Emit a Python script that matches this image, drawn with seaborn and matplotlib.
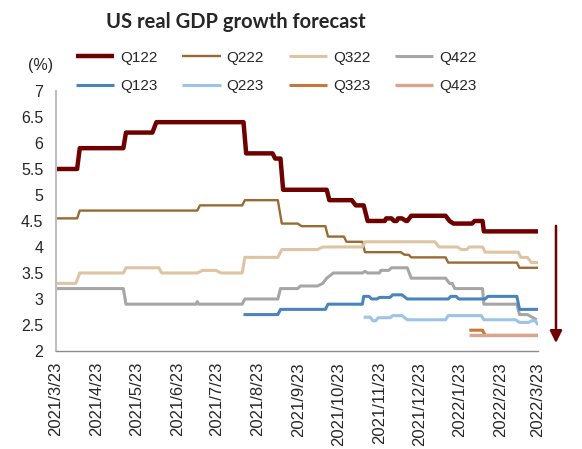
import matplotlib
matplotlib.use('Agg')
import matplotlib.pyplot as plt
import pandas as pd
import seaborn as sns

# series (date, forecast value in %)
series_names = ['Q122', 'Q222', 'Q322', 'Q422', 'Q123', 'Q223', 'Q323', 'Q423']
series_colors = ['#6E0000', '#9A6A33', '#DDC4A2', '#A6A6A6',
                 '#4A84BC', '#9DC3E6', '#C8763A', '#D8A58E']
series_widths = [3.2, 1.7, 2.2, 2.2, 2.2, 2.2, 2.2, 2.4]

q122_dates = ['2021-03-23', '2021-04-08', '2021-04-10', '2021-05-13', '2021-05-15',
              '2021-06-04', '2021-06-07', '2021-08-12', '2021-08-14', '2021-09-03',
              '2021-09-05', '2021-09-09', '2021-09-11', '2021-10-14', '2021-10-16',
              '2021-11-02', '2021-11-05', '2021-11-11', '2021-11-14', '2021-11-27',
              '2021-11-28', '2021-12-02', '2021-12-04', '2021-12-06', '2021-12-07',
              '2021-12-10', '2021-12-13', '2021-12-14', '2021-12-17', '2022-01-12',
              '2022-01-15', '2022-01-18', '2022-02-01', '2022-02-03', '2022-02-09',
              '2022-02-10', '2022-03-23']
q122_values = [5.5, 5.5, 5.9, 5.9, 6.2,
               6.2, 6.4, 6.4, 5.8, 5.8,
               5.7, 5.7, 5.1, 5.1, 4.9,
               4.9, 4.8, 4.8, 4.5, 4.5,
               4.55, 4.55, 4.5, 4.5, 4.55,
               4.55, 4.5, 4.5, 4.6, 4.6,
               4.5, 4.45, 4.45, 4.5, 4.5,
               4.3, 4.3]

q222_dates = ['2021-03-23', '2021-04-08', '2021-04-10', '2021-07-08', '2021-07-10',
              '2021-08-11', '2021-08-13', '2021-09-07', '2021-09-10', '2021-09-22',
              '2021-09-25', '2021-10-13', '2021-10-15', '2021-10-27', '2021-10-29',
              '2021-11-10', '2021-11-12', '2021-12-09', '2021-12-12', '2021-12-15',
              '2021-12-17', '2022-01-12', '2022-01-14', '2022-03-07', '2022-03-09',
              '2022-03-23']
q222_values = [4.55, 4.55, 4.7, 4.7, 4.8,
               4.8, 4.9, 4.9, 4.45, 4.45,
               4.4, 4.4, 4.2, 4.2, 4.1,
               4.1, 3.9, 3.9, 3.85, 3.85,
               3.8, 3.8, 3.7, 3.7, 3.6,
               3.6]

q322_dates = ['2021-03-23', '2021-04-07', '2021-04-10', '2021-05-13', '2021-05-15',
              '2021-06-09', '2021-06-11', '2021-07-08', '2021-07-12', '2021-07-22',
              '2021-07-26', '2021-08-11', '2021-08-13', '2021-09-07', '2021-09-10',
              '2021-10-07', '2021-10-11', '2021-11-10', '2021-11-12', '2022-01-04',
              '2022-01-07', '2022-01-21', '2022-01-24', '2022-01-28', '2022-01-30',
              '2022-02-09', '2022-02-11', '2022-03-08', '2022-03-10', '2022-03-15',
              '2022-03-18', '2022-03-23']
q322_values = [3.3, 3.3, 3.5, 3.5, 3.6,
               3.6, 3.5, 3.5, 3.55, 3.55,
               3.5, 3.5, 3.8, 3.8, 3.95,
               3.95, 4.0, 4.0, 4.1, 4.1,
               4.0, 4.0, 3.95, 3.95, 4.0,
               4.0, 3.9, 3.9, 3.8, 3.8,
               3.7, 3.7]

q422_dates = ['2021-03-23', '2021-05-13', '2021-05-15', '2021-07-07', '2021-07-08',
              '2021-07-09', '2021-08-11', '2021-08-13', '2021-09-07', '2021-09-09',
              '2021-09-22', '2021-09-24', '2021-10-07', '2021-10-11', '2021-10-14',
              '2021-10-19', '2021-11-10', '2021-11-12', '2021-11-14', '2021-11-23',
              '2021-11-24', '2021-11-30', '2021-12-02', '2021-12-14', '2021-12-17',
              '2022-01-12', '2022-01-15', '2022-01-17', '2022-01-19', '2022-02-09',
              '2022-02-10', '2022-03-07', '2022-03-09', '2022-03-15', '2022-03-22']
q422_values = [3.2, 3.2, 2.9, 2.9, 2.95,
               2.9, 2.9, 3.0, 3.0, 3.2,
               3.2, 3.25, 3.25, 3.3, 3.4,
               3.5, 3.5, 3.53, 3.5, 3.5,
               3.55, 3.55, 3.6, 3.6, 3.4,
               3.4, 3.3, 3.3, 3.2, 3.2,
               2.9, 2.9, 2.7, 2.7, 2.6]

q123_dates = ['2021-08-12', '2021-09-07', '2021-09-09', '2021-10-13', '2021-10-15',
              '2021-11-10', '2021-11-11', '2021-11-15', '2021-11-17', '2021-11-21',
              '2021-11-23', '2021-12-01', '2021-12-03', '2021-12-10', '2021-12-14',
              '2022-01-14', '2022-01-16', '2022-01-20', '2022-01-22', '2022-02-11',
              '2022-02-13', '2022-03-07', '2022-03-09', '2022-03-23']
q123_values = [2.7, 2.7, 2.8, 2.8, 2.9,
               2.9, 3.05, 3.05, 3.0, 3.0,
               3.03, 3.03, 3.08, 3.08, 3.0,
               3.0, 3.05, 3.05, 3.0, 3.0,
               3.05, 3.05, 2.8, 2.8]

q223_dates = ['2021-11-11', '2021-11-16', '2021-11-18', '2021-11-20', '2021-11-22',
              '2021-12-01', '2021-12-03', '2021-12-10', '2021-12-14', '2022-01-12',
              '2022-01-14', '2022-02-08', '2022-02-10', '2022-03-06', '2022-03-09',
              '2022-03-16', '2022-03-18', '2022-03-21', '2022-03-23']
q223_values = [2.65, 2.65, 2.58, 2.58, 2.64,
               2.64, 2.68, 2.68, 2.6, 2.6,
               2.68, 2.68, 2.6, 2.6, 2.55,
               2.55, 2.58, 2.58, 2.5]

q323_dates = ['2022-01-30', '2022-02-09', '2022-02-11', '2022-03-23']
q323_values = [2.4, 2.4, 2.3, 2.3]

q423_dates = ['2022-01-30', '2022-03-23']
q423_values = [2.3, 2.3]

tick_dates = ['2021-03-23', '2021-04-23', '2021-05-23', '2021-06-23', '2021-07-23',
              '2021-08-23', '2021-09-23', '2021-10-23', '2021-11-23', '2021-12-23',
              '2022-01-23', '2022-02-23', '2022-03-23']
tick_labels = ['2021/3/23', '2021/4/23', '2021/5/23', '2021/6/23', '2021/7/23',
               '2021/8/23', '2021/9/23', '2021/10/23', '2021/11/23', '2021/12/23',
               '2022/1/23', '2022/2/23', '2022/3/23']
y_ticks = [2, 2.5, 3, 3.5, 4, 4.5, 5, 5.5, 6, 6.5, 7]
y_labels = ['2', '2.5', '3', '3.5', '4', '4.5', '5', '5.5', '6', '6.5', '7']

all_dates = [q122_dates, q222_dates, q322_dates, q422_dates,
             q123_dates, q223_dates, q323_dates, q423_dates]
all_values = [q122_values, q222_values, q322_values, q422_values,
              q123_values, q223_values, q323_values, q423_values]

frames = []
for name, d, v in zip(series_names, all_dates, all_values):
    frames.append(pd.DataFrame({'date': pd.to_datetime(d), 'value': v, 'series': name}))
df = pd.concat(frames, ignore_index=True)

sns.set_style('white')
plt.rcParams['font.family'] = ['Liberation Sans', 'DejaVu Sans']

fig = plt.figure(figsize=(5.82, 4.49), dpi=100)
ax = fig.add_axes([0.0962, 0.2183, 0.8282, 0.5791])

for name, col, lw in zip(series_names, series_colors, series_widths):
    sub = df[df['series'] == name]
    sns.lineplot(data=sub, x='date', y='value', color=col, lw=lw, ax=ax,
                 label=name, estimator=None, sort=False,
                 solid_joinstyle='round', solid_capstyle='butt')

if ax.get_legend() is not None:
    ax.get_legend().remove()

ax.set_xlim(pd.Timestamp(tick_dates[0]), pd.Timestamp(tick_dates[-1]))
ax.set_ylim(2, 7)
ax.set_xticks(pd.to_datetime(tick_dates))
ax.set_xticklabels(tick_labels, rotation=90, fontsize=12)
ax.set_yticks(y_ticks)
ax.set_yticklabels(y_labels, fontsize=11.5)
ax.set_xlabel('')
ax.set_ylabel('')

for side in ['top', 'right']:
    ax.spines[side].set_visible(False)
ax.spines['left'].set_color('#BFBFBF')
ax.spines['left'].set_linewidth(1.5)
ax.spines['bottom'].set_color('#8C8C8C')
ax.spines['bottom'].set_linewidth(1.0)
ax.tick_params(axis='x', direction='out', length=4, width=1, color='#8C8C8C', pad=4)
ax.tick_params(axis='y', length=0, pad=9)

# legend: 4 columns, filled column by column, so reorder to get the two rows
handles, labels = ax.get_legend_handles_labels()
order = [0, 4, 1, 5, 2, 6, 3, 7]
fig.legend([handles[i] for i in order], [labels[i] for i in order],
           ncol=4, loc='upper left', bbox_to_anchor=(0.1305, 0.887),
           frameon=False, fontsize=11, handlelength=2.5, handletextpad=0.4,
           columnspacing=1.62, labelspacing=0.95, borderaxespad=0, borderpad=0)

fig.text(0.405, 0.952, 'US real GDP growth forecast', ha='center', va='center',
         fontsize=14.5, fontweight='bold', family=['Lato', 'DejaVu Sans'])
fig.text(0.07, 0.855, '(%)', ha='center', va='center', fontsize=11.5)

# down arrow at the right of the plot
ax.annotate('', xy=(0.9553, 0.236), xytext=(0.9553, 0.497),
            xycoords='figure fraction', textcoords='figure fraction',
            arrowprops=dict(arrowstyle='-|>', color='#6E0000', lw=1.8,
                            mutation_scale=18, shrinkA=0, shrinkB=0))

plt.savefig('out.png', dpi=100)
plt.close()
